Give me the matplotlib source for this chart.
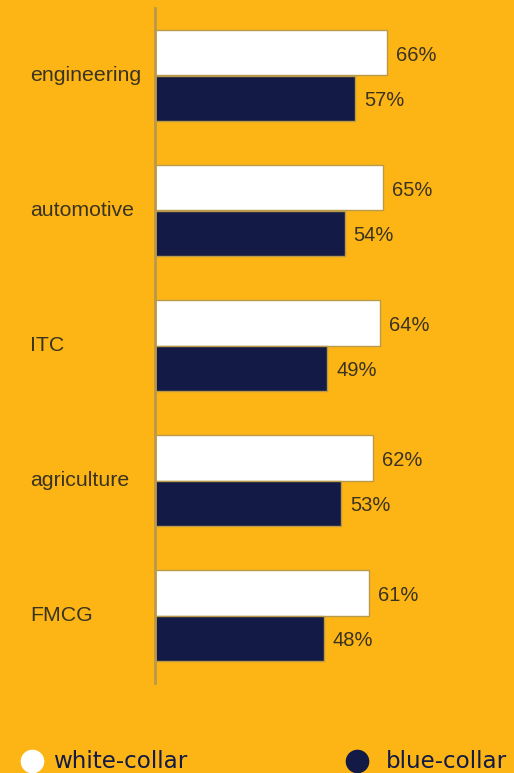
import numpy as np
import matplotlib.pyplot as plt
from matplotlib.lines import Line2D

categories = ['engineering', 'automotive', 'ITC', 'agriculture', 'FMCG']
white_collar = [66, 65, 64, 62, 61]
blue_collar = [57, 54, 49, 53, 48]

bg = '#FDB515'
navy = '#121A45'
edge = '#B89A4A'
txt = '#3A3320'

fig = plt.figure(figsize=(5.14, 7.73), dpi=100, facecolor=bg)
ax = fig.add_axes([155 / 514, 90 / 773, 351.5 / 514, 675 / 773])
ax.set_facecolor(bg)

y = np.arange(len(categories))
h = 0.335
ax.barh(y - h / 2, white_collar, height=h, color='white', edgecolor=edge, linewidth=1)
ax.barh(y + h / 2, blue_collar, height=h, color=navy, edgecolor=edge, linewidth=1)

for i in range(len(categories)):
    # value labels sit a touch below bar centres
    ax.text(white_collar[i] + 2.5, y[i] - h / 2 + 0.02, f'{white_collar[i]}%', va='center', ha='left',
            fontsize=14.5, color=txt, family='Liberation Sans')
    ax.text(blue_collar[i] + 2.5, y[i] + h / 2 + 0.02, f'{blue_collar[i]}%', va='center', ha='left',
            fontsize=14.5, color=txt, family='Liberation Sans')
    ax.text(-125 / 3.515, y[i], categories[i], va='center', ha='left',
            fontsize=15.3, color=txt, family='Liberation Sans')

ax.set_xlim(0, 100)
ax.set_ylim(4.5, -0.5)
ax.set_xticks([])
ax.set_yticks([])
for s in ['top', 'right', 'bottom']:
    ax.spines[s].set_visible(False)
ax.spines['left'].set_color(edge)
ax.spines['left'].set_linewidth(2)

# legend
for cx, col, tx, lab in [(32, 'white', 53, 'white-collar'), (357, navy, 386, 'blue-collar')]:
    fig.add_artist(Line2D([cx / 514], [1 - 761 / 773], marker='o', markersize=16,
                          color=col, linestyle='none', transform=fig.transFigure))
    fig.text(tx / 514, 1 - 761 / 773, lab, va='center', ha='left', fontsize=16.6,
             color=navy, family='DejaVu Sans')

fig.savefig('out.png', dpi=100, facecolor=bg)
